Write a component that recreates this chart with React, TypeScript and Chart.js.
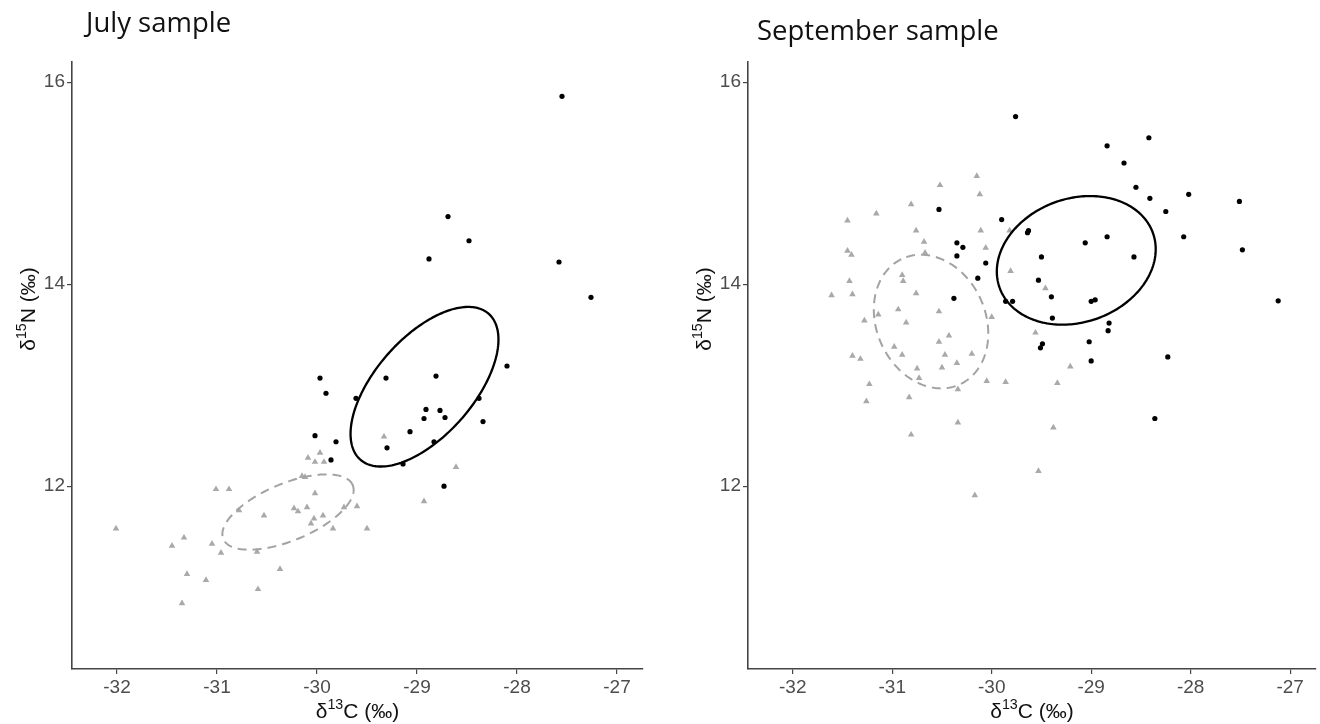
import React, { useEffect, useRef } from "react";
import { Chart, registerables } from "chart.js";
Chart.register(...registerables);

// ---------- axes ----------
const X_TICKS = [-32, -31, -30, -29, -28, -27];
const Y_TICKS = [12, 14, 16];
const X_MIN = -32.45;
const X_MAX = -26.74;
const Y_MIN = 10.19;
const Y_MAX = 16.2;

// ---------- July sample ----------
const julyBlack: [number, number][] = [
  [-27.55, 15.86], [-28.69, 14.67], [-28.48, 14.43], [-28.88, 14.25], [-27.58, 14.22],
  [-27.26, 13.87], [-28.10, 13.19], [-29.31, 13.07], [-28.81, 13.09], [-29.97, 13.07],
  [-29.91, 12.92], [-29.61, 12.87], [-28.38, 12.87], [-28.91, 12.76], [-28.77, 12.75],
  [-28.93, 12.67], [-28.72, 12.68], [-28.34, 12.64], [-29.07, 12.54], [-30.02, 12.50],
  [-29.81, 12.44], [-28.83, 12.44], [-29.30, 12.38], [-29.86, 12.26], [-29.14, 12.22],
  [-28.73, 12.00],
];
const julyGrey: [number, number][] = [
  [-29.33, 12.49], [-28.61, 12.19], [-28.93, 11.85], [-29.60, 11.80], [-29.73, 11.79],
  [-29.84, 11.58], [-29.50, 11.58], [-29.97, 12.33], [-30.09, 12.28], [-30.02, 12.24],
  [-29.93, 12.24], [-30.15, 12.10], [-30.12, 12.09], [-31.01, 11.97], [-30.88, 11.97],
  [-30.02, 11.93], [-30.23, 11.78], [-30.19, 11.75], [-30.10, 11.79], [-30.78, 11.76],
  [-30.53, 11.71], [-30.03, 11.68], [-29.94, 11.71], [-30.06, 11.63], [-31.33, 11.49],
  [-31.05, 11.43], [-30.96, 11.34], [-30.60, 11.35], [-31.30, 11.13], [-31.11, 11.07],
  [-30.37, 11.18], [-30.59, 10.98], [-31.35, 10.84], [-32.01, 11.58], [-31.45, 11.41],
];

// ---------- September sample ----------
const septBlack: [number, number][] = [
  [-29.76, 15.66], [-28.42, 15.45], [-28.84, 15.37], [-28.67, 15.20], [-28.55, 14.96],
  [-28.41, 14.85], [-28.02, 14.89], [-27.51, 14.82], [-28.25, 14.72], [-29.90, 14.64],
  [-29.63, 14.53], [-29.64, 14.51], [-28.84, 14.47], [-29.06, 14.41], [-28.07, 14.47],
  [-27.48, 14.34], [-29.50, 14.27], [-28.57, 14.27], [-29.53, 14.04], [-29.40, 13.875],
  [-29.86, 13.83], [-29.79, 13.83], [-29.00, 13.83], [-28.96, 13.845], [-27.12, 13.835],
  [-29.39, 13.665], [-28.82, 13.615], [-28.83, 13.54], [-29.02, 13.43], [-29.49, 13.41],
  [-29.51, 13.37], [-29.00, 13.24], [-28.23, 13.28], [-28.36, 12.67], [-30.53, 14.74],
  [-30.35, 14.41], [-30.29, 14.365], [-30.35, 14.28], [-30.06, 14.21], [-30.14, 14.06],
  [-30.38, 13.86],
];
const septGrey: [number, number][] = [
  [-30.15, 15.07], [-30.52, 14.98], [-30.12, 14.89], [-30.81, 14.79], [-31.16, 14.70],
  [-31.45, 14.63], [-30.76, 14.53], [-30.11, 14.53], [-30.68, 14.42], [-30.67, 14.31],
  [-31.45, 14.33], [-31.41, 14.29], [-30.06, 14.36], [-30.90, 14.09], [-30.89, 14.03],
  [-31.43, 14.03], [-31.61, 13.89], [-31.40, 13.90], [-30.76, 13.91], [-30.94, 13.75],
  [-30.53, 13.73], [-31.14, 13.70], [-31.28, 13.64], [-30.86, 13.62], [-30.00, 13.675],
  [-30.43, 13.49], [-30.53, 13.43], [-30.98, 13.38], [-30.90, 13.30], [-30.47, 13.30],
  [-30.20, 13.31], [-30.35, 13.22], [-30.50, 13.175], [-31.40, 13.29], [-31.32, 13.26],
  [-30.75, 13.165], [-30.73, 13.07], [-30.05, 13.04], [-29.86, 13.03], [-30.34, 12.96],
  [-31.23, 13.01], [-31.26, 12.84], [-30.83, 12.88], [-30.34, 12.63], [-30.81, 12.51],
  [-29.82, 14.53], [-29.81, 14.13], [-29.46, 13.96], [-29.56, 13.52], [-29.21, 13.185],
  [-29.34, 13.02], [-29.38, 12.58], [-29.53, 12.15], [-30.17, 11.91],
];

// ---------- ellipses (centre, semi-axes, rotation in degrees) ----------
const julyBlackEllipse = { cx: -28.925, cy: 12.985, a: 0.966, b: 0.488, angle: 48.2 };
const julyGreyEllipse = { cx: -30.29, cy: 11.744, a: 0.70, b: 0.283, angle: 22.3 };
const septBlackEllipse = { cx: -29.15, cy: 14.236, a: 0.817, b: 0.613, angle: 18.6 };
const septGreyEllipse = { cx: -30.61, cy: 13.63, a: 0.686, b: 0.546, angle: 115.9 };

const GREY = "#a9a9a9";
const TICK_COLOR = "#4d4d4d";
const AXIS_COLOR = "#454545";

type Part = [string, boolean];

function drawRich(ctx: CanvasRenderingContext2D, parts: Part[], size: number, family: string, color: string) {
  const supSize = size * 0.68;
  let total = 0;
  const widths = parts.map(([t, sup]) => {
    ctx.font = `${sup ? supSize : size}px ${family}`;
    const w = ctx.measureText(t).width;
    total += w;
    return w;
  });
  let x = -total / 2;
  ctx.fillStyle = color;
  ctx.textAlign = "left";
  ctx.textBaseline = "alphabetic";
  parts.forEach(([t, sup], i) => {
    ctx.font = `${sup ? supSize : size}px ${family}`;
    ctx.fillText(t, x, sup ? size * 0.36 - size * 0.42 : size * 0.36);
    x += widths[i];
  });
}

const ellipsePlugin = {
  id: "ellipses",
  afterDatasetsDraw(chart: any, _args: any, opts: any) {
    const { ctx, scales, chartArea } = chart;
    const xs = scales.x, ys = scales.y;
    ctx.save();
    ctx.beginPath();
    ctx.rect(chartArea.left, chartArea.top, chartArea.right - chartArea.left, chartArea.bottom - chartArea.top);
    ctx.clip();
    (opts.items || []).forEach((e: any) => {
      const th = (e.angle * Math.PI) / 180;
      ctx.beginPath();
      const N = 240;
      for (let i = 0; i <= N; i++) {
        const t = (2 * Math.PI * i) / N;
        const dx = e.a * Math.cos(t) * Math.cos(th) - e.b * Math.sin(t) * Math.sin(th);
        const dy = e.a * Math.cos(t) * Math.sin(th) + e.b * Math.sin(t) * Math.cos(th);
        const px = xs.getPixelForValue(e.cx + dx);
        const py = ys.getPixelForValue(e.cy + dy);
        if (i === 0) ctx.moveTo(px, py);
        else ctx.lineTo(px, py);
      }
      ctx.closePath();
      ctx.strokeStyle = e.color;
      ctx.lineWidth = e.width;
      ctx.setLineDash(e.dash || []);
      ctx.stroke();
    });
    ctx.restore();
  },
};

const labelsPlugin = {
  id: "panelText",
  afterDraw(chart: any, _args: any, opts: any) {
    const { ctx, chartArea } = chart;
    ctx.save();
    // title
    ctx.font = `27.5px "Open Sans"`;
    ctx.fillStyle = "#111";
    ctx.textAlign = "left";
    ctx.textBaseline = "alphabetic";
    ctx.fillText(opts.title, opts.titleX, opts.titleY);
    // x label
    ctx.save();
    ctx.translate((chartArea.left + chartArea.right) / 2, 710);
    drawRich(ctx, [["δ", false], ["13", true], ["C (‰)", false]], 21, `"Liberation Sans"`, "#111");
    ctx.restore();
    // y label
    ctx.save();
    ctx.translate(chartArea.left - 45, 309);
    ctx.rotate(-Math.PI / 2);
    drawRich(ctx, [["δ", false], ["15", true], ["N (‰)", false]], 21, `"Liberation Sans"`, "#111");
    ctx.restore();
    ctx.restore();
  },
};

type PanelCfg = {
  black: [number, number][];
  grey: [number, number][];
  blackEllipse: any;
  greyEllipse: any;
  title: string;
  titleX: number;
  titleY: number;
  yWidth: number;
  padRight: number;
  left: number;
};

function Panel({ cfg }: { cfg: PanelCfg }) {
  const ref = useRef<HTMLCanvasElement>(null);
  useEffect(() => {
    const chart = new Chart(ref.current as HTMLCanvasElement, {
      type: "scatter",
      data: {
        datasets: [
          {
            label: "grey",
            data: cfg.grey.map(([x, y]) => ({ x, y })),
            pointStyle: "triangle",
            pointRadius: 3.8,
            pointBackgroundColor: GREY,
            pointBorderWidth: 0,
            borderWidth: 0,
          },
          {
            label: "black",
            data: cfg.black.map(([x, y]) => ({ x, y })),
            pointStyle: "circle",
            pointRadius: 2.6,
            pointBackgroundColor: "#000",
            pointBorderWidth: 0,
            borderWidth: 0,
          },
        ],
      },
      options: {
        responsive: false,
        animation: false,
        devicePixelRatio: 1,
        layout: { padding: { left: 0, top: 62, right: cfg.padRight, bottom: 0 } },
        plugins: {
          legend: { display: false },
          tooltip: { enabled: false },
          title: { display: false },
          ellipses: {
            items: [
              { ...cfg.greyEllipse, color: "#a3a3a3", width: 2, dash: [9, 6] },
              { ...cfg.blackEllipse, color: "#000", width: 2.3 },
            ],
          },
          panelText: { title: cfg.title, titleX: cfg.titleX, titleY: cfg.titleY },
        } as any,
        scales: {
          x: {
            type: "linear",
            min: X_MIN,
            max: X_MAX,
            afterBuildTicks: (s: any) => {
              s.ticks = X_TICKS.map((v) => ({ value: v }));
            },
            afterFit: (s: any) => {
              s.height = 55;
            },
            ticks: {
              color: TICK_COLOR,
              font: { family: '"Liberation Sans"', size: 19 },
              padding: 2,
              callback: (v: any) => String(v),
            },
            grid: { drawOnChartArea: false, drawTicks: true, tickLength: 5, color: AXIS_COLOR, lineWidth: 1.2 },
            border: { display: true, color: AXIS_COLOR, width: 1.6 },
          },
          y: {
            type: "linear",
            min: Y_MIN,
            max: Y_MAX,
            afterBuildTicks: (s: any) => {
              s.ticks = Y_TICKS.map((v) => ({ value: v }));
            },
            afterFit: (s: any) => {
              s.width = cfg.yWidth;
            },
            ticks: {
              color: TICK_COLOR,
              font: { family: '"Liberation Sans"', size: 19 },
              padding: 2,
              callback: (v: any) => String(v),
            },
            grid: { drawOnChartArea: false, drawTicks: true, tickLength: 5, color: AXIS_COLOR, lineWidth: 1.2 },
            border: { display: true, color: AXIS_COLOR, width: 1.6 },
          },
        },
      },
      plugins: [ellipsePlugin, labelsPlugin],
    } as any);
    return () => chart.destroy();
  }, []);
  return (
    <canvas
      ref={ref}
      width={660}
      height={724}
      style={{ position: "absolute", left: cfg.left, top: 0, width: 660, height: 724 }}
    />
  );
}

const julyCfg: PanelCfg = {
  black: julyBlack,
  grey: julyGrey,
  blackEllipse: julyBlackEllipse,
  greyEllipse: julyGreyEllipse,
  title: "July sample",
  titleX: 86,
  titleY: 32,
  yWidth: 72,
  padRight: 17,
  left: 0,
};

const septCfg: PanelCfg = {
  black: septBlack,
  grey: septGrey,
  blackEllipse: septBlackEllipse,
  greyEllipse: septGreyEllipse,
  title: "September sample",
  titleX: 97,
  titleY: 40,
  yWidth: 88,
  padRight: 0,
  left: 660,
};

export default function App() {
  return (
    <div style={{ position: "absolute", left: 0, top: 0, width: 1320, height: 724, background: "#fff", overflow: "hidden" }}>
      <Panel cfg={julyCfg} />
      <Panel cfg={septCfg} />
    </div>
  );
}
